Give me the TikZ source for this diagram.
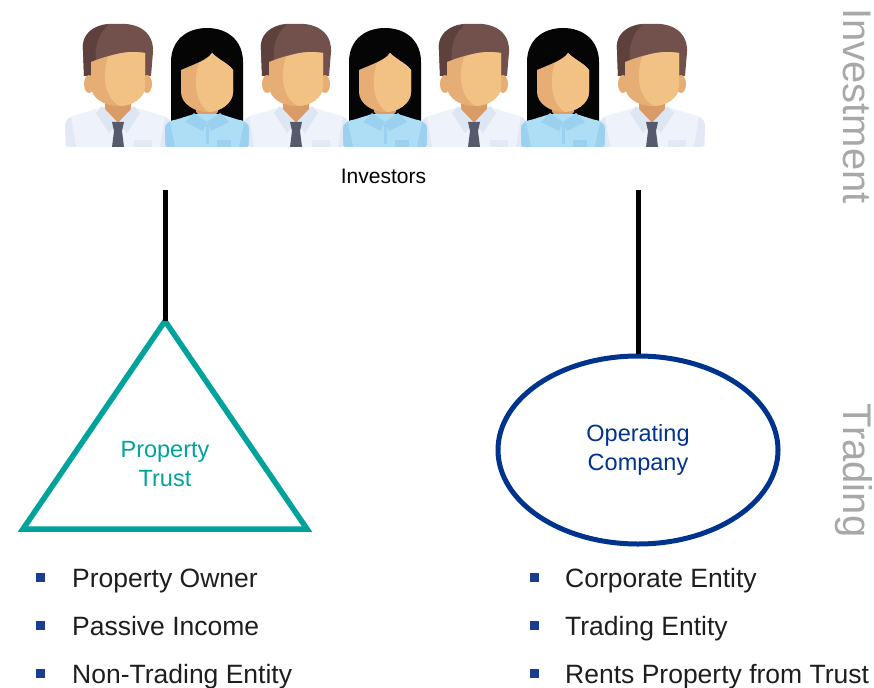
\documentclass[tikz,border=0pt]{standalone}
\usepackage{fontspec}
\setmainfont{Liberation Sans}
\usetikzlibrary{shapes.geometric}

\definecolor{trustteal}{HTML}{00A39B}
\definecolor{opblue}{HTML}{00338D}
\definecolor{bulletblue}{HTML}{1B3D8F}
\definecolor{sidegray}{HTML}{A8A8A8}
\definecolor{textdark}{HTML}{1E1E1E}
\definecolor{shirtm}{HTML}{EEF2FA}
\definecolor{shirtmd}{HTML}{E2E8F5}
\definecolor{collarm}{HTML}{DFE6F3}
\definecolor{tiec}{HTML}{575A6C}
\definecolor{skinl}{HTML}{F1C283}
\definecolor{skind}{HTML}{E6AE74}
\definecolor{skinn}{HTML}{D99C66}
\definecolor{hairm}{HTML}{72514D}
\definecolor{hairmd}{HTML}{5E403D}
\definecolor{hairw}{HTML}{050505}
\definecolor{shirtw}{HTML}{AEDEF6}
\definecolor{shirtwd}{HTML}{9BD1EE}

\tikzset{
  connector/.style={line width=5pt, black},
  bulletsq/.style={fill=bulletblue, inner sep=0pt, minimum size=9pt},
  bullettext/.style={anchor=base west, inner sep=0pt, text=textdark, font=\fontsize{26.5}{31}\selectfont},
  sidelabel/.style={rotate=-90, anchor=base west, inner sep=0pt, text=sidegray, font=\fontsize{40}{45}\selectfont},
  entitytext/.style={align=center, font=\fontsize{23.5}{28.5}\selectfont},
  % a man with a white shirt and tie; origin on the figure's centre line
  man/.pic={
    \fill[shirtm, rounded corners=3pt] (-53,147) -- (-53,127) .. controls (-53,120) and (-49,117) .. (-42,115) -- (-16,107) -- (16,107) -- (42,115) .. controls (49,117) and (53,120) .. (53,127) -- (53,147) -- cycle;
    \fill[shirtmd] (-52,145) -- (-53,127) .. controls (-53,122) and (-51,119) .. (-47,117) -- (-42,147) -- (-50,147) -- cycle;
    \fill[shirtmd] (52,145) -- (53,127) .. controls (53,122) and (51,119) .. (47,117) -- (42,147) -- (50,147) -- cycle;
    \fill[skinn] (-13,90) -- (-13,110) -- (0,123) -- (13,110) -- (13,90) -- cycle;
    \fill[collarm] (-16,106) -- (0,123) -- (-9,133) -- (-22,113) -- cycle;
    \fill[collarm] (16,106) -- (0,123) -- (9,133) -- (22,113) -- cycle;
    \fill[tiec] (-6,122) -- (6,122) -- (4,131) -- (-4,131) -- cycle;
    \fill[tiec] (-4,131) -- (4,131) -- (6,147) -- (-6,147) -- cycle;
    \fill[shirtmd] (16,140) rectangle (34,147);
    \fill[hairm] (-34,76) -- (-35,50) .. controls (-37,32) and (-20,22) .. (-2,24) .. controls (20,22) and (36,32) .. (35,52) -- (33,76) -- cycle;
    \fill[hairmd] (-34,76) -- (-35,50) .. controls (-37,34) and (-24,25) .. (-10,25) .. controls (-20,34) and (-24,48) .. (-22,62) -- (-24,76) -- cycle;
    \fill[skind] (-29,84) ellipse (5 and 9);
    \fill[skind] (29,84) ellipse (5 and 9);
    \fill[skind] (-27,62) .. controls (-12,56) and (8,50) .. (27,53) -- (27,86) .. controls (27,98) and (14,106) .. (0,106) .. controls (-14,106) and (-27,98) .. (-27,86) -- cycle;
    \fill[skinl] (-10,57) .. controls (2,52) and (14,51) .. (27,53) -- (27,86) .. controls (27,98) and (14,106) .. (2,106) .. controls (-14,98) and (-16,75) .. (-10,57) -- cycle;
  },
  % a woman with long dark hair and a blue blouse
  woman/.pic={
    \fill[hairw] (-36,121) -- (-36,62) .. controls (-36,40) and (-20,28) .. (0,28) .. controls (20,28) and (36,40) .. (36,62) -- (36,121) -- cycle;
    \fill[skinn] (-11,96) -- (-11,112) -- (0,122) -- (11,112) -- (11,96) -- cycle;
    \fill[shirtw, rounded corners=3pt] (-42,147) -- (-42,130) .. controls (-42,124) and (-38,121) .. (-32,120) -- (-13,114) -- (13,114) -- (32,120) .. controls (38,121) and (42,124) .. (42,130) -- (42,147) -- cycle;
    \fill[shirtwd] (-41.5,145) -- (-42,130) .. controls (-42,126) and (-40,123) .. (-37,122) -- (-32,147) -- (-40,147) -- cycle;
    \fill[shirtwd] (41.5,145) -- (42,130) .. controls (42,126) and (40,123) .. (37,122) -- (32,147) -- (40,147) -- cycle;
    \fill[shirtwd] (-13,113) -- (0,122) -- (-4,131) -- (-22,122) -- cycle;
    \fill[shirtwd] (13,113) -- (0,122) -- (4,131) -- (22,122) -- cycle;
    \fill[shirtwd] (-1.5,124) rectangle (1.5,144);
    \fill[shirtwd] (10,140) rectangle (24,147);
    \fill[skind] (-26,70) .. controls (-12,64) and (0,60) .. (5,53) .. controls (12,60) and (22,64) .. (26,70) -- (26,92) .. controls (26,104) and (12,112) .. (0,112) .. controls (-12,112) and (-26,104) .. (-26,92) -- cycle;
    \fill[skinl] (-8,63) .. controls (-2,60) and (3,57) .. (5,53) .. controls (12,60) and (22,64) .. (26,70) -- (26,92) .. controls (26,104) and (12,112) .. (2,112) .. controls (-12,104) and (-14,80) .. (-8,63) -- cycle;
  }
}

\begin{document}
\begin{tikzpicture}[x=1pt, y=-1pt]
  \useasboundingbox (0,0) rectangle (874,687);

  % investors row: men behind, women in front
  \foreach \cx in {118,296,474,652} \pic at (\cx,0) {man};
  \foreach \cx in {207,385,563} \pic at (\cx,0) {woman};

  \node[anchor=base, inner sep=0pt, font=\fontsize{21}{25}\selectfont] (investors) at (383.5,183) {Investors};

  % side labels
  \node[sidelabel] (invlabel) at (843,8) {Investment};
  \node[sidelabel] (tradelabel) at (843,403) {Trading};

  % property trust
  \coordinate (apex) at (165,321);
  \coordinate (baseL) at (23,529);
  \coordinate (baseR) at (307,529);
  \draw[trustteal, line width=5.5pt] (apex) -- (baseR) -- (baseL) -- cycle;
  \node[entitytext, text=trustteal] (trust) at (165,464) {Property\\Trust};

  % operating company
  \node[ellipse, draw=opblue, line width=5pt, minimum width=280pt, minimum height=188pt,
        entitytext, text=opblue] (opco) at (638,450) {Operating\\Company};

  % connectors from the investors
  \coordinate (leftTop) at (165,190);
  \coordinate (rightTop) at (638,190);
  \draw[connector] (leftTop) -- (apex);
  \draw[connector] (rightTop) -- (opco.north);

  % characteristics of each entity
  \node[bulletsq] (bl1) at (40.5,577.5) {};
  \node[bulletsq] (bl2) at (40.5,625.5) {};
  \node[bulletsq] (bl3) at (40.5,673.5) {};
  \node[bullettext] (tl1) at (72,587) {Property Owner};
  \node[bullettext] (tl2) at (72,635) {Passive Income};
  \node[bullettext] (tl3) at (72,683) {Non-Trading Entity};

  \node[bulletsq] (br1) at (534.5,577.5) {};
  \node[bulletsq] (br2) at (534.5,625.5) {};
  \node[bulletsq] (br3) at (534.5,673.5) {};
  \node[bullettext] (tr1) at (565,587) {Corporate Entity};
  \node[bullettext] (tr2) at (565,635) {Trading Entity};
  \node[bullettext] (tr3) at (565,683) {Rents Property from Trust};
\end{tikzpicture}
\end{document}
